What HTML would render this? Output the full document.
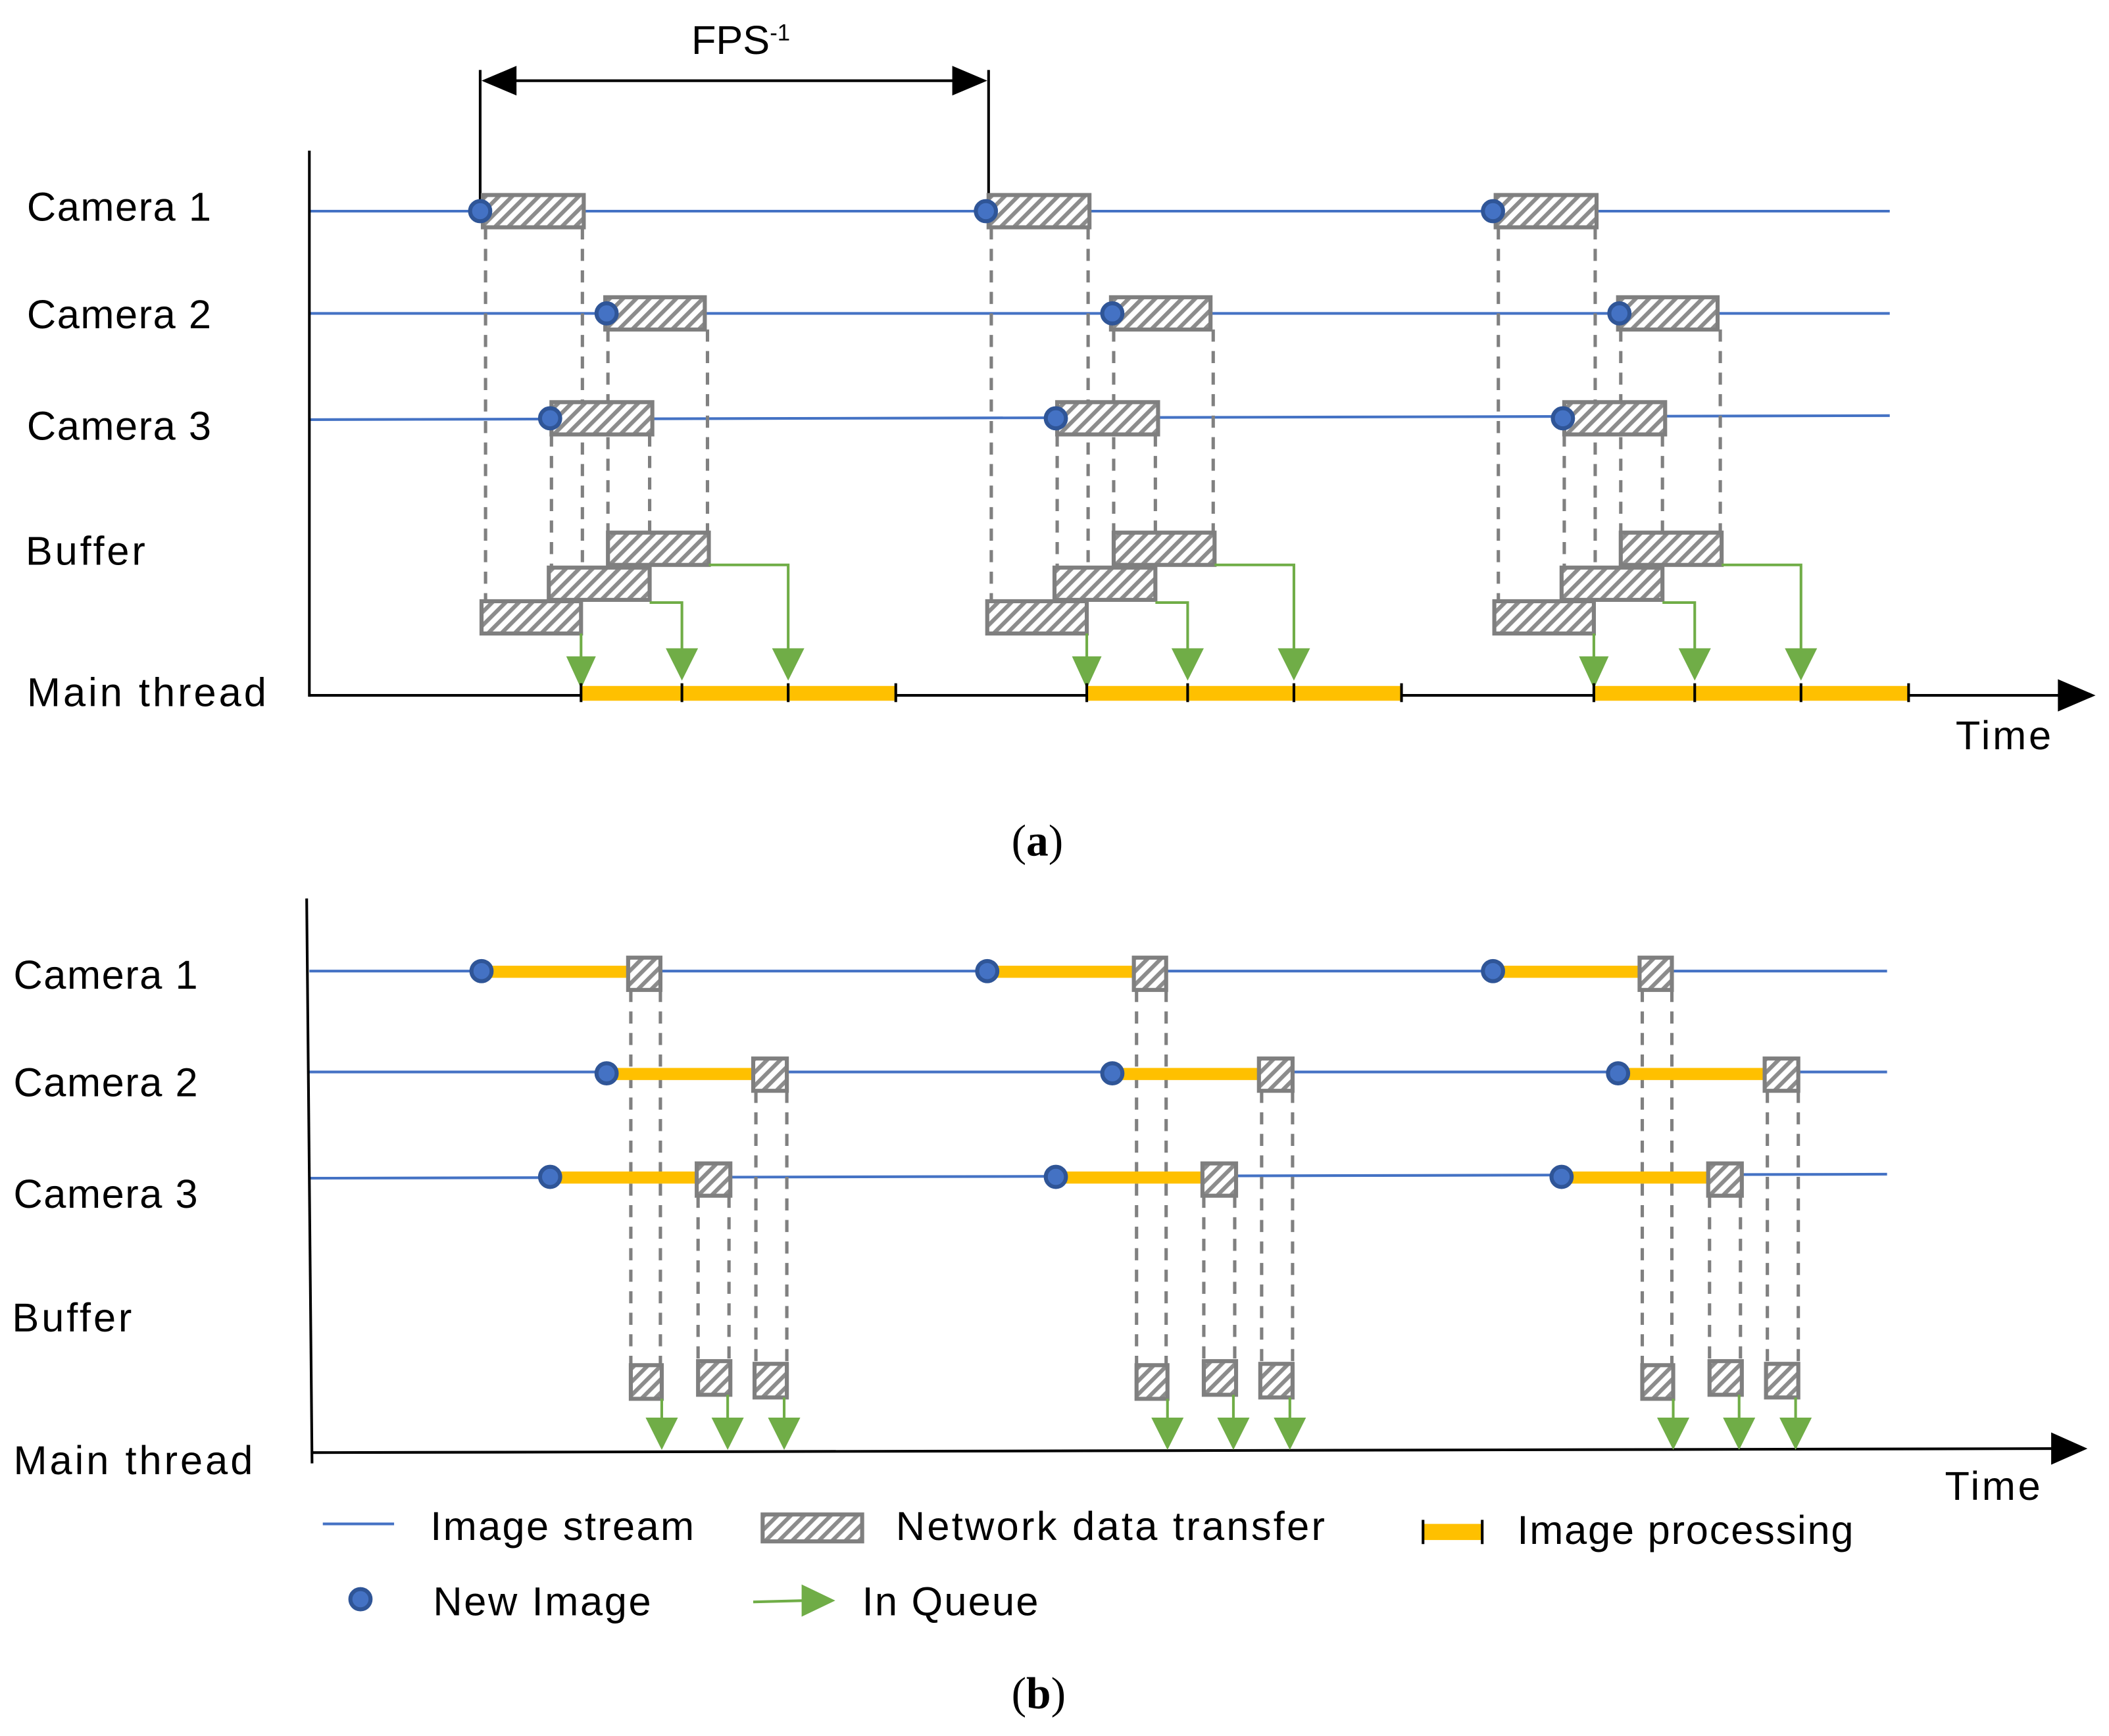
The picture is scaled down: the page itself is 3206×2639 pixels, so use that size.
<!DOCTYPE html>
<html><head><meta charset="utf-8"><style>
html,body{margin:0;padding:0;background:#fff;}
svg{display:block;}
text{font-family:"Liberation Sans","DejaVu Sans",sans-serif;font-size:30px;fill:#000;}
</style></head><body>
<svg width="3206" height="2639" viewBox="0 0 1568 1290.7" preserveAspectRatio="none" xmlns="http://www.w3.org/2000/svg">
<defs>
<pattern id="h" patternUnits="userSpaceOnUse" width="7" height="7" patternTransform="rotate(45)">
<rect width="7" height="7" fill="#fff"/><rect x="0" y="0" width="3" height="7" fill="#8c8c8c"/>
</pattern>
<g id="pa">
<g stroke="#808080" stroke-width="2.5" stroke-dasharray="9,7" fill="none">
<line x1="361" y1="169" x2="361" y2="447"/><line x1="433" y1="169" x2="433" y2="447"/>
<line x1="410" y1="323" x2="410" y2="421"/><line x1="483" y1="323" x2="483" y2="421"/>
<line x1="452" y1="245" x2="452" y2="395"/><line x1="526" y1="245" x2="526" y2="395"/>
</g>
<g fill="url(#h)" stroke="#7f7f7f" stroke-width="3">
<rect x="359" y="145" width="75" height="24"/>
<rect x="450" y="221" width="74" height="24"/>
<rect x="410" y="299" width="75" height="24"/>
<rect x="452" y="396" width="75" height="24"/>
<rect x="408" y="422" width="75" height="24"/>
<rect x="358" y="447" width="74" height="24"/>
</g>
<g stroke="#70ad47" stroke-width="2" fill="none">
<line x1="432" y1="471" x2="432" y2="492"/>
<polyline points="483,448 507,448 507,490"/>
<polyline points="527,420 586,420 586,490"/>
</g>
<g fill="#70ad47">
<path d="M421,488 L443,488 L432,512z"/><path d="M495,482 L519,482 L507,506z"/><path d="M574,482 L598,482 L586,506z"/>
</g>
<rect x="432" y="510" width="234" height="11" fill="#ffc000"/>
<g stroke="#000" stroke-width="2"><line x1="432" y1="508" x2="432" y2="522"/><line x1="507" y1="508" x2="507" y2="522"/><line x1="586" y1="508" x2="586" y2="522"/><line x1="666" y1="508" x2="666" y2="522"/></g>
<g fill="#4472c4" stroke="#2f5597" stroke-width="3">
<circle cx="357" cy="157" r="7.5"/><circle cx="451" cy="233" r="7.5"/><circle cx="409" cy="311" r="7.5"/>
</g>
</g>
<g id="pb">
<g stroke="#808080" stroke-width="2.5" stroke-dasharray="9,7" fill="none">
<line x1="469" y1="736" x2="469" y2="1015"/><line x1="491" y1="736" x2="491" y2="1015"/>
<line x1="519" y1="889" x2="519" y2="1012"/><line x1="542" y1="889" x2="542" y2="1012"/>
<line x1="562" y1="811" x2="562" y2="1014"/><line x1="585" y1="811" x2="585" y2="1014"/>
</g>
<g fill="#ffc000"><rect x="358" y="718" width="109" height="9"/><rect x="451" y="794" width="109" height="9"/><rect x="409" y="871" width="109" height="9"/></g>
<g fill="url(#h)" stroke="#7f7f7f" stroke-width="3">
<rect x="467" y="712" width="24" height="24"/><rect x="560" y="787" width="25" height="24"/><rect x="518" y="865" width="25" height="24"/>
<rect x="469" y="1015" width="23" height="25"/><rect x="519" y="1012" width="24" height="25"/><rect x="561" y="1014" width="24" height="25"/>
</g>
<g stroke="#70ad47" stroke-width="2"><line x1="492" y1="1040" x2="492" y2="1058"/><line x1="541" y1="1037" x2="541" y2="1058"/><line x1="583" y1="1039" x2="583" y2="1058"/></g>
<g fill="#70ad47"><path d="M480,1054 L504,1054 L492,1078z"/><path d="M529,1054 L553,1054 L541,1078z"/><path d="M571,1054 L595,1054 L583,1078z"/></g>
<g fill="#4472c4" stroke="#2f5597" stroke-width="3">
<circle cx="358" cy="722" r="7.5"/><circle cx="451" cy="798" r="7.5"/><circle cx="409" cy="875" r="7.5"/>
</g>
</g>
</defs>
<!-- panel a -->
<g stroke="#4472c4" stroke-width="2"><line x1="230" y1="157" x2="1405" y2="157"/><line x1="230" y1="233" x2="1405" y2="233"/><line x1="230" y1="312" x2="1405" y2="309"/></g>
<g stroke="#000" stroke-width="2" fill="none">
<line x1="230" y1="112" x2="230" y2="518"/><line x1="230" y1="517" x2="1535" y2="517"/>
<line x1="357" y1="52" x2="357" y2="150"/><line x1="735" y1="52" x2="735" y2="150"/>
<line x1="380" y1="60" x2="712" y2="60"/>
</g>
<path d="M1530,505 L1558,517 L1530,529z" fill="#000"/>
<path d="M358,60 L384,49 L384,71z" fill="#000"/><path d="M734,60 L708,49 L708,71z" fill="#000"/>
<text x="514" y="40">FPS<tspan font-size="17" dy="-10">-1</tspan></text>
<use href="#pa"/><use href="#pa" x="376"/><use href="#pa" x="753"/>
<text x="20" y="164" textLength="137">Camera 1</text><text x="20" y="244" textLength="137">Camera 2</text><text x="20" y="327" textLength="137">Camera 3</text>
<text x="19" y="420" textLength="89">Buffer</text><text x="20" y="525" textLength="178">Main thread</text>
<text x="1454" y="557" textLength="71">Time</text>
<text x="752" y="636" style="font-family:'Liberation Serif',serif;font-size:33px">(<tspan font-weight="bold">a</tspan>)</text>
<!-- panel b -->
<g stroke="#4472c4" stroke-width="2"><line x1="230" y1="722" x2="1403" y2="722"/><line x1="230" y1="797" x2="1403" y2="797"/><line x1="230" y1="876" x2="1403" y2="873"/></g>
<g stroke="#000" stroke-width="2"><line x1="228" y1="668" x2="232" y2="1088"/><line x1="232" y1="1080" x2="1530" y2="1077"/></g>
<path d="M1525,1065 L1552,1077 L1525,1089z" fill="#000"/>
<use href="#pb"/><use href="#pb" x="376"/><use href="#pb" x="752"/>
<text x="10" y="735" textLength="137">Camera 1</text><text x="10" y="815" textLength="137">Camera 2</text><text x="10" y="898" textLength="137">Camera 3</text>
<text x="9" y="990" textLength="89">Buffer</text><text x="10" y="1096" textLength="178">Main thread</text>
<text x="1446" y="1115" textLength="71">Time</text>
<!-- legend -->
<line x1="240" y1="1133" x2="293" y2="1133" stroke="#4472c4" stroke-width="2"/>
<text x="320" y="1145" textLength="196">Image stream</text>
<rect x="567" y="1126" width="74" height="20" fill="url(#h)" stroke="#7f7f7f" stroke-width="3"/>
<text x="666" y="1145" textLength="319">Network data transfer</text>
<rect x="1058" y="1133" width="44" height="12" fill="#ffc000"/>
<line x1="1058" y1="1130" x2="1058" y2="1148" stroke="#000" stroke-width="2"/><line x1="1102" y1="1130" x2="1102" y2="1148" stroke="#000" stroke-width="2"/>
<text x="1128" y="1148" textLength="250">Image processing</text>
<circle cx="268" cy="1189" r="7.5" fill="#4472c4" stroke="#2f5597" stroke-width="3"/>
<text x="322" y="1201" textLength="162">New Image</text>
<line x1="560" y1="1191" x2="600" y2="1190" stroke="#70ad47" stroke-width="2"/>
<path d="M596,1178 L621,1190 L596,1202z" fill="#70ad47"/>
<text x="641" y="1201" textLength="131">In Queue</text>
<text x="752" y="1270" style="font-family:'Liberation Serif',serif;font-size:33px">(<tspan font-weight="bold">b</tspan>)</text>
</svg>
</body></html>
